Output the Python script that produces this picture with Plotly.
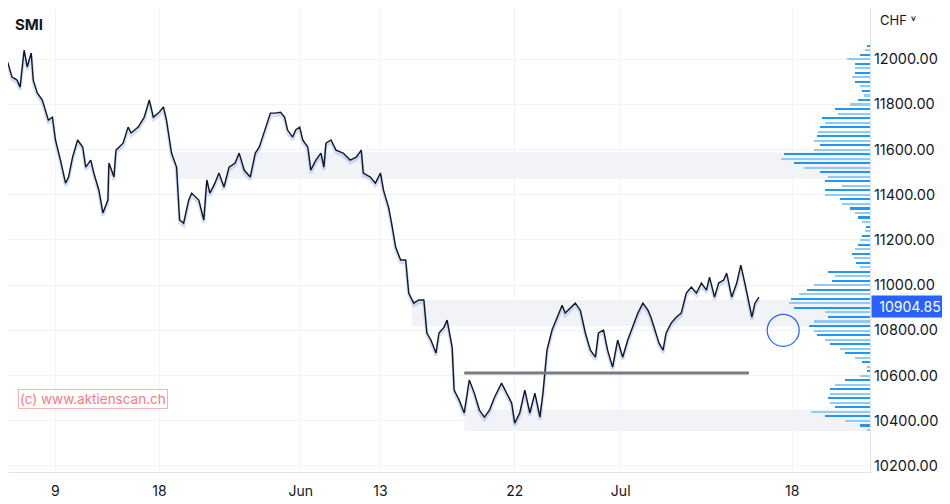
import plotly.graph_objects as go

# session time index (trading-time units) and SMI price
t = [0,5,8,12,17,20,24,27,31,33,37,42,45,48,52,55,60,65,68,72,77,82,85,90,93,98,102,107,108,113,115,122,127,130,137,143,148,152,157,162,165,170,175,178,182,187,190,197,202,205,208,213,217,222,227,233,237,242,248,253,257,263,268,273,278,282,285,290,293,297,300,305,308,313,318,321,323,328,333,340,347,353,358,360,367,372,377,380,385,388,392,397,402,
     405,410,415,420,423,427,432,435,440,443,448,450,455,460,465,470,475,480,485,490,497,502,507,510,515,520,525,530,535,538,542,547,552,557,560,565,570,575,580,585,590,593,598,602,607,612,617,622,627,632,637,642,645,648,653,657,660,665,670,675,680,685,690,695,700,703,708,712,717,720,725,730,734,738,742,745,748,752]
price = [11965,12009,11982,11920,11907,11876,12040,11965,12027,11907,11850,11819,11774,11730,11743,11642,11553,11451,11478,11566,11642,11611,11522,11553,11496,11421,11319,11376,11540,11478,11597,11628,11699,11673,11699,11743,11819,11743,11761,11788,11730,11584,11522,11288,11274,11376,11407,11376,11288,11465,11407,11451,11496,11434,11522,11540,11584,11509,11478,11584,11611,11699,11761,11761,11765,11743,11686,11655,11686,11699,11642,11611,11509,11553,11584,11522,11628,11642,11597,11584,11553,11566,11597,11496,11478,11451,11496,11420,11345,11274,11168,11111,11111,
         10965,10920,10934,10934,10788,10757,10699,10788,10814,10845,10726,10535,10491,10434,10580,10522,10447,10416,10447,10504,10566,10522,10478,10389,10434,10535,10434,10522,10416,10522,10712,10801,10858,10911,10876,10898,10920,10889,10788,10712,10681,10788,10801,10712,10637,10757,10681,10757,10814,10876,10920,10889,10858,10814,10743,10712,10788,10832,10858,10876,10965,10991,10965,11009,10978,11035,10947,11009,11022,11053,10947,11009,11088,11009,10920,10858,10920,10947,10905]
last_price = 10904.85

tick_pos = [55,158,298,377,510,615,785]
tick_labels = ["9","18","Jun","13","22","Jul","18"]

# volume profile
vp_price = list(range(12060, 10359, -20))
vp_len = [3,5,10,23,15,15,15,18,15,10,8,6,12,20,35,32,48,45,50,52,53,55,50,55,85,88,75,65,50,42,45,28,45,45,30,28,20,15,12,8,4,5,8,10,12,15,18,16,14,10,42,35,38,55,62,70,78,80,75,45,42,55,60,55,53,45,40,30,25,15,8,3,3,10,25,35,40,40,42,40,35,58,45,25,10,3]

# zones: (low, high, start)
zones = [(11469,11588,173),(10818,10934,408),(10354,10451,460)]
support = (10611,460,742)

fig = go.Figure()
for lo,hi,x0 in zones:
    fig.add_shape(type="rect", x0=x0, x1=862, y0=lo, y1=hi, xref="x", yref="y",
                  fillcolor="rgba(225,228,234,0.45)", line_width=0, layer="below")
fig.add_shape(type="line", x0=support[1], x1=support[2], y0=support[0], y1=support[0],
              line=dict(color="#787b86", width=3))

vp_colors = ["#2196f3" if i%2==0 else "#90caf9" for i in range(len(vp_len))]
fig.add_trace(go.Bar(x=vp_len, y=vp_price, orientation="h", width=7, marker_color=vp_colors,
                     marker_line_width=0, xaxis="x2", yaxis="y", showlegend=False))
fig.add_trace(go.Scatter(x=t, y=[p-12 for p in price], mode="lines",
                         line=dict(color="rgba(120,160,240,0.35)", width=3), showlegend=False))
fig.add_trace(go.Scatter(x=t, y=price, mode="lines", line=dict(color="#131722", width=1.4),
                         showlegend=False))

fig.add_shape(type="circle", xref="x", yref="y", xsizemode="pixel", ysizemode="pixel",
              xanchor=776, yanchor=10800, x0=-16, x1=16, y0=-16, y1=16,
              line=dict(color="#2962ff", width=1.2))

fig.update_layout(
    width=942, height=496, margin=dict(l=0, r=80, t=0, b=32),
    plot_bgcolor="white", paper_bgcolor="white", bargap=0,
    font=dict(family="Inter, Roboto, sans-serif", color="#131722"),
    xaxis=dict(range=[8,862], tickvals=tick_pos, ticktext=tick_labels, showgrid=True,
               gridcolor="#f0f3fa", zeroline=False, showline=True, linecolor="#e0e3eb",
               tickfont=dict(size=14), ticks="outside", ticklen=6, tickcolor="rgba(0,0,0,0)"),
    xaxis2=dict(range=[854,0], overlaying="x", visible=False),
    yaxis=dict(range=[10173,12226], side="right", tickvals=list(range(10200,12001,200)),
               tickformat=".2f", showgrid=True, gridcolor="#f0f3fa", zeroline=False,
               showline=True, linecolor="#e0e3eb", tickfont=dict(size=14.5), ticks=""),
)
fig.add_annotation(xref="paper", yref="paper", x=0.006, y=0.99, xanchor="left", yanchor="top",
                   text="<b>SMI</b>", showarrow=False, font=dict(size=15, color="#131722"))
fig.add_annotation(xref="paper", yref="paper", x=1, y=0.995, xanchor="left", yanchor="top",
                   xshift=8, text="CHF ˅", showarrow=False, font=dict(size=13, color="#131722"))
fig.add_annotation(xref="paper", yref="y", x=1, y=last_price, xanchor="left", xshift=1,
                   text=f"{last_price:.2f}", showarrow=False, bgcolor="#2962ff",
                   font=dict(size=14, color="white"), borderpad=2, width=72)
fig.add_annotation(xref="x", yref="y", x=18, y=10497, xanchor="left",
                   text="(c) www.aktienscan.ch", showarrow=False, bgcolor="white",
                   bordercolor="#f4b4b4", borderwidth=1, font=dict(size=13.5, color="#f08080"))
fig.write_html("out.html")
